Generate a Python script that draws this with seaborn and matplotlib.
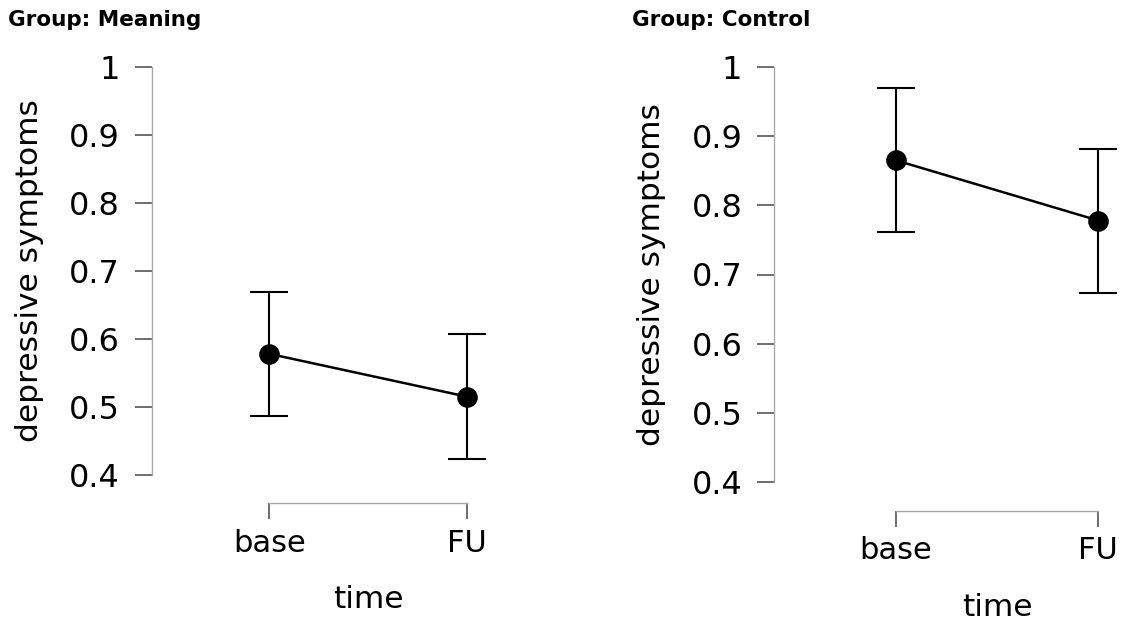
import numpy as np
import pandas as pd
import matplotlib
matplotlib.use("Agg")
import matplotlib.pyplot as plt
import matplotlib.transforms as mtransforms
import seaborn as sns

# ---- data ----
time_levels = ["base", "FU"]
groups = ["Meaning", "Control"]
meaning_mean = [0.578, 0.515]
meaning_lower = [0.486, 0.423]
meaning_upper = [0.669, 0.607]
control_mean = [0.865, 0.778]
control_lower = [0.761, 0.673]
control_upper = [0.970, 0.882]
y_ticks = [0.4, 0.5, 0.6, 0.7, 0.8, 0.9, 1.0]
y_tick_labels = ["0.4", "0.5", "0.6", "0.7", "0.8", "0.9", "1"]

sns.set_theme(style="white")
plt.rcParams["font.family"] = ["DejaVu Sans"]

W, H = 1121, 623
fig = plt.figure(figsize=(W / 100, H / 100), dpi=100)

panels = [
    dict(name="Meaning", mean=meaning_mean, lo=meaning_lower, hi=meaning_upper,
         rect=(151.7, 490.4, 67.3, 474.7), xlim=(-0.596, 1.12), out=20.3, title_x=8,
         ylab_x=30, xlab_y=600),
    dict(name="Control", mean=control_mean, lo=control_lower, hi=control_upper,
         rect=(774.3, 1120.6, 67.0, 482.0), xlim=(-0.602, 1.11), out=20.7, title_x=632,
         ylab_x=652, xlab_y=608),
]

spine_col = "#a8a8a8"
tick_col = "#555555"
for p in panels:
    l, r, t, b = p["rect"]
    ax = fig.add_axes([l / W, 1 - b / H, (r - l) / W, (b - t) / H])
    df = pd.DataFrame({"time": time_levels, "value": p["mean"]})
    mean = np.array(p["mean"])
    yerr = np.vstack([mean - np.array(p["lo"]), np.array(p["hi"]) - mean])
    ax.errorbar(np.arange(len(time_levels)), mean, yerr=yerr, fmt="none",
                ecolor="black", elinewidth=1.5, capsize=14, capthick=1.5, zorder=2)
    sns.pointplot(data=df, x="time", y="value", order=time_levels, color="black",
                  errorbar=None, markers="o", markersize=13.5, linewidth=1.8, ax=ax)
    ax.set_xlim(*p["xlim"])
    ax.set_ylim(0.4, 1.0)
    ax.set_yticks(y_ticks)
    ax.set_yticklabels(y_tick_labels)
    ax.set_xticks(range(len(time_levels)))
    ax.set_xticklabels(time_levels)
    for s in ["top", "right"]:
        ax.spines[s].set_visible(False)
    ax.spines["left"].set_bounds(0.4, 1.0)
    ax.spines["bottom"].set_bounds(0, 1)
    ax.spines["bottom"].set_position(("outward", p["out"]))
    for s in ["left", "bottom"]:
        ax.spines[s].set_color(spine_col)
        ax.spines[s].set_linewidth(1.0)
    ax.tick_params(axis="y", direction="out", length=12, width=1.2, color=tick_col,
                   labelsize=23, pad=11, left=True, labelcolor="black")
    ax.tick_params(axis="x", direction="out", length=11.5, width=1.2, color=tick_col,
                   labelsize=22, pad=7, bottom=True, labelcolor="black")
    ax.set_xlabel("time", fontsize=22.5, color="black", va="center")
    ax.set_ylabel("depressive symptoms", fontsize=22.5, color="black", va="center")
    span = r - l
    ax.yaxis.set_label_coords((p["ylab_x"] - l) / span, 0.5)
    xl_y = (b - p["xlab_y"]) / (b - t)
    trans = mtransforms.blended_transform_factory(ax.transData, ax.transAxes)
    ax.xaxis.set_label_coords(0.5, xl_y, transform=trans)
    ax.set_facecolor("white")
    fig.text(p["title_x"] / W, 1 - 20 / H, f"Group: {p['name']}", fontsize=15.5,
             fontweight="bold", ha="left", va="center", color="black")

fig.savefig("out.png", dpi=100, facecolor="white")
